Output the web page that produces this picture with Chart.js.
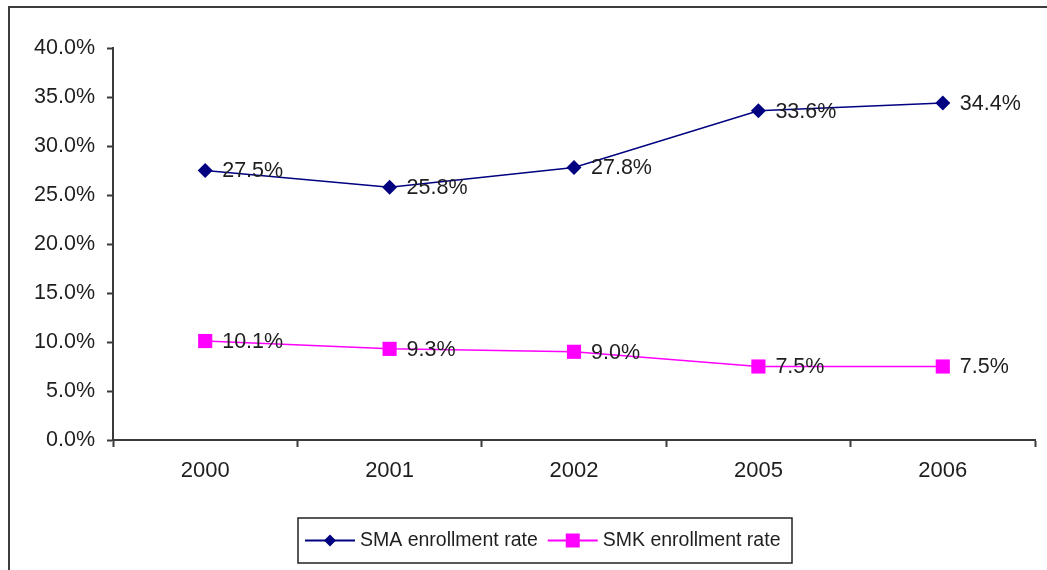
<!DOCTYPE html>
<html>
<head>
<meta charset="utf-8">
<script src="https://cdn.jsdelivr.net/npm/chart.js@4/dist/chart.umd.min.js"></script>
<style>
  body { margin: 0; background: #fff; }
  canvas { display: block; }
</style>
</head>
<body>
<canvas id="myChart" width="1047" height="570"></canvas>
<script>
const years = ['2000', '2001', '2002', '2005', '2006'];
const smaRate = [27.5, 25.8, 27.8, 33.6, 34.4];
const smkRate = [10.1, 9.3, 9.0, 7.5, 7.5];
const seriesNames = ['SMA enrollment rate', 'SMK enrollment rate'];
const yTicks = [0, 5, 10, 15, 20, 25, 30, 35, 40];

const axisColor = '#3a3a3a';
const textColor = '#1e1e1e';
const fontFamily = "'Liberation Sans', Arial, sans-serif";

Chart.defaults.font.family = fontFamily;
Chart.defaults.font.size = 21.5;
Chart.defaults.color = textColor;

const pct = v => v.toFixed(1) + '%';

// frame around the whole chart (runs off the right / bottom edge)
const frame = {
    id: 'frame',
    beforeDraw(chart) {
        const ctx = chart.ctx;
        ctx.save();
        ctx.strokeStyle = '#3c3c3c';
        ctx.lineWidth = 2;
        ctx.strokeRect(9, 7, chart.width + 40, chart.height + 40);
        ctx.restore();
    }
};

// value next to each point
const valueLabels = {
    id: 'valueLabels',
    afterDatasetsDraw(chart) {
        const ctx = chart.ctx;
        ctx.save();
        ctx.font = '21.5px ' + fontFamily;
        ctx.fillStyle = textColor;
        ctx.textAlign = 'left';
        ctx.textBaseline = 'middle';
        chart.data.datasets.forEach((ds, i) => {
            chart.getDatasetMeta(i).data.forEach((pt, j) => {
                ctx.fillText(pct(ds.data[j]), pt.x + 17, pt.y + 1);
            });
        });
        ctx.restore();
    }
};

// boxed legend with line + marker samples
const boxLegend = {
    id: 'boxLegend',
    afterDraw(chart) {
        const ctx = chart.ctx;
        const box = { left: 298, top: 518, right: 792, bottom: 563 };
        const cy = (box.top + box.bottom) / 2;
        ctx.save();
        ctx.strokeStyle = '#222';
        ctx.lineWidth = 1.5;
        ctx.strokeRect(box.left, box.top, box.right - box.left, box.bottom - box.top);
        ctx.font = '19.5px ' + fontFamily;
        ctx.textBaseline = 'middle';
        let x = box.left + 7;
        chart.data.datasets.forEach(ds => {
            ctx.strokeStyle = ds.borderColor;
            ctx.lineWidth = 2;
            ctx.beginPath();
            ctx.moveTo(x, cy);
            ctx.lineTo(x + 50, cy);
            ctx.stroke();
            const mx = x + 25;
            ctx.fillStyle = ds.pointBackgroundColor;
            ctx.beginPath();
            if (ds.pointStyle === 'rectRot') {
                ctx.moveTo(mx - 6, cy);
                ctx.lineTo(mx, cy - 6);
                ctx.lineTo(mx + 6, cy);
                ctx.lineTo(mx, cy + 6);
                ctx.closePath();
            } else {
                ctx.rect(mx - 7, cy - 7, 14, 14);
            }
            ctx.fill();
            ctx.fillStyle = textColor;
            ctx.fillText(ds.label, x + 55, cy);
            x += 55 + ctx.measureText(ds.label).width + 10;
        });
        ctx.restore();
    }
};

new Chart(document.getElementById('myChart'), {
    type: 'line',
    data: {
        labels: years,
        datasets: [{
            label: seriesNames[0],
            data: smaRate,
            borderColor: '#000080',
            borderWidth: 1.5,
            pointStyle: 'rectRot',
            pointRadius: 7.5,
            pointBackgroundColor: '#000080',
            pointBorderColor: '#000080',
            pointBorderWidth: 0,
            tension: 0
        }, {
            label: seriesNames[1],
            data: smkRate,
            borderColor: '#ff00ff',
            borderWidth: 1.5,
            pointStyle: 'rect',
            pointRadius: 10,
            pointBackgroundColor: '#ff00ff',
            pointBorderColor: '#ff00ff',
            pointBorderWidth: 0,
            tension: 0
        }]
    },
    options: {
        responsive: false,
        animation: false,
        layout: {
            padding: { left: 0, top: 48, right: 12, bottom: 0 }
        },
        plugins: {
            legend: { display: false },
            tooltip: { enabled: false }
        },
        scales: {
            x: {
                offset: true,
                grid: {
                    offset: true,
                    drawOnChartArea: false,
                    drawTicks: true,
                    tickLength: 7,
                    tickWidth: 2,
                    tickColor: axisColor
                },
                border: { display: true, color: axisColor, width: 2 },
                ticks: { padding: 11, font: { size: 22 } },
                afterFit(scale) { scale.height = 130; }
            },
            y: {
                min: 0,
                max: 40,
                afterBuildTicks(scale) {
                    scale.ticks = yTicks.map(v => ({ value: v }));
                },
                grid: {
                    drawOnChartArea: false,
                    drawTicks: true,
                    tickLength: 6,
                    tickWidth: 2,
                    tickColor: axisColor
                },
                border: { display: true, color: axisColor, width: 2 },
                ticks: {
                    padding: 12,
                    callback: v => pct(v)
                },
                afterFit(scale) { scale.width = 113; }
            }
        }
    },
    plugins: [frame, valueLabels, boxLegend]
});
</script>
</body>
</html>
